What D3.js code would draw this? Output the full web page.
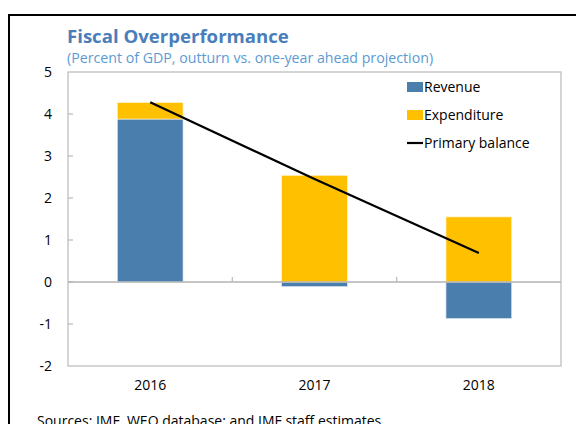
<!DOCTYPE html>
<html>
<head>
<meta charset="utf-8">
<script src="https://cdn.jsdelivr.net/npm/d3@7"></script>
<style>
  body { margin: 0; background: #fff; }
  svg text { font-family: "Open Sans", "Noto Sans", sans-serif; }
</style>
</head>
<body>
<svg id="chart" width="576" height="424"></svg>
<script>
const years = ['2016', '2017', '2018'];
const revenue = [3.88, -0.11, -0.87];
const expenditure = [0.39, 2.54, 1.55];
const primaryBalance = [4.28, 2.45, 0.69];
const yTicks = [-2, -1, 0, 1, 2, 3, 4, 5];

const blue = '#4a7fad';
const yellow = '#ffc000';

const margin = { top: 72, right: 16, bottom: 58, left: 68 };
const width = 576;
const height = 424;
const plotW = 561 - margin.left;
const plotH = 366 - margin.top;

const svg = d3.select('#chart');

// outer frame
svg.append('path')
  .attr('d', `M9,${height + 5} V15 H${width + 5}`)
  .attr('fill', 'none')
  .attr('stroke', '#000')
  .attr('stroke-width', 2);

svg.append('text')
  .attr('x', 67).attr('y', 43)
  .attr('font-size', 18.6).attr('font-weight', 'bold')
  .attr('fill', '#4a7ebb')
  .text('Fiscal Overperformance');

svg.append('text')
  .attr('x', 67).attr('y', 63)
  .attr('font-size', 14.2)
  .attr('fill', '#5b9bd5')
  .text('(Percent of GDP, outturn vs. one-year ahead projection)');

const g = svg.append('g')
  .attr('transform', `translate(${margin.left}, ${margin.top})`);

const x = d3.scaleBand().domain(years).range([0, plotW]).paddingInner(0).paddingOuter(0);
const y = d3.scaleLinear().domain([-2, 5]).range([plotH, 0]);
const barW = x.bandwidth() * 0.4;

// plot frame
g.append('rect')
  .attr('width', plotW).attr('height', plotH)
  .attr('fill', 'none').attr('stroke', '#bfbfbf').attr('stroke-width', 1.3);

// y axis (plain hyphen for negatives, as in the source)
const yAxis = d3.axisLeft(y).tickValues(yTicks).tickFormat(d => String(d)).tickSize(0).tickPadding(16);
const gY = g.append('g').call(yAxis);
gY.select('.domain').remove();
gY.selectAll('text').attr('font-size', 14).attr('fill', '#000')
  .attr('font-family', '"Open Sans", "Noto Sans", sans-serif');

// inner tick marks
g.append('g').selectAll('line')
  .data(yTicks.filter(d => d > -2 && d < 5))
  .enter().append('line')
  .attr('x1', 0).attr('x2', 5)
  .attr('y1', d => y(d)).attr('y2', d => y(d))
  .attr('stroke', '#bfbfbf').attr('stroke-width', 1.3);

// bars
const bars = g.append('g');
years.forEach((yr, i) => {
  const x0 = x(yr) + (x.bandwidth() - barW) / 2;
  const r = revenue[i];
  const e = expenditure[i];
  const eBase = r > 0 ? r : 0;
  bars.append('rect')
    .attr('x', x0).attr('width', barW)
    .attr('y', y(Math.max(0, r))).attr('height', Math.abs(y(r) - y(0)))
    .attr('fill', blue).attr('stroke', '#dbe5f1').attr('stroke-width', 0.7);
  bars.append('rect')
    .attr('x', x0).attr('width', barW)
    .attr('y', y(eBase + e)).attr('height', Math.abs(y(eBase + e) - y(eBase)))
    .attr('fill', yellow).attr('stroke', '#fff2cc').attr('stroke-width', 0.7);
});

// zero line
g.append('line')
  .attr('x1', 0).attr('x2', plotW)
  .attr('y1', y(0)).attr('y2', y(0))
  .attr('stroke', '#b3b3b3').attr('stroke-width', 1.3);

// category separators
g.append('g').selectAll('line')
  .data(years.slice(1))
  .enter().append('line')
  .attr('x1', d => x(d)).attr('x2', d => x(d))
  .attr('y1', y(0)).attr('y2', y(0) - 5)
  .attr('stroke', '#bfbfbf').attr('stroke-width', 1.3);

// x labels
const xAxis = d3.axisBottom(x).tickSize(0).tickPadding(14);
const gX = g.append('g').attr('transform', `translate(0, ${plotH})`).call(xAxis);
gX.select('.domain').remove();
gX.selectAll('text').attr('font-size', 14).attr('fill', '#000')
  .attr('font-family', '"Open Sans", "Noto Sans", sans-serif');

// primary balance line
const line = d3.line()
  .x((d, i) => x(years[i]) + x.bandwidth() / 2)
  .y(d => y(d));
g.append('path')
  .datum(primaryBalance)
  .attr('d', line)
  .attr('fill', 'none').attr('stroke', '#000').attr('stroke-width', 2.2);

// legend
const legendItems = [
  { label: 'Revenue', type: 'rect', color: blue },
  { label: 'Expenditure', type: 'rect', color: yellow },
  { label: 'Primary balance', type: 'line', color: '#000' },
];
const legend = svg.append('g').attr('transform', 'translate(407, 87)');
legendItems.forEach((d, i) => {
  const row = legend.append('g').attr('transform', `translate(0, ${i * 28})`);
  if (d.type === 'rect') {
    row.append('rect').attr('x', 0).attr('y', -5).attr('width', 16).attr('height', 10).attr('fill', d.color);
  } else {
    row.append('line').attr('x1', 0).attr('x2', 16).attr('y1', 0).attr('y2', 0)
      .attr('stroke', d.color).attr('stroke-width', 2.2);
  }
  row.append('text').attr('x', 17).attr('y', 5)
    .attr('font-size', 14).attr('fill', '#000').text(d.label);
});

svg.append('text')
  .attr('x', 37).attr('y', 426)
  .attr('font-size', 14).attr('fill', '#000')
  .text('Sources: IMF, WEO database; and IMF staff estimates.');
</script>
</body>
</html>
